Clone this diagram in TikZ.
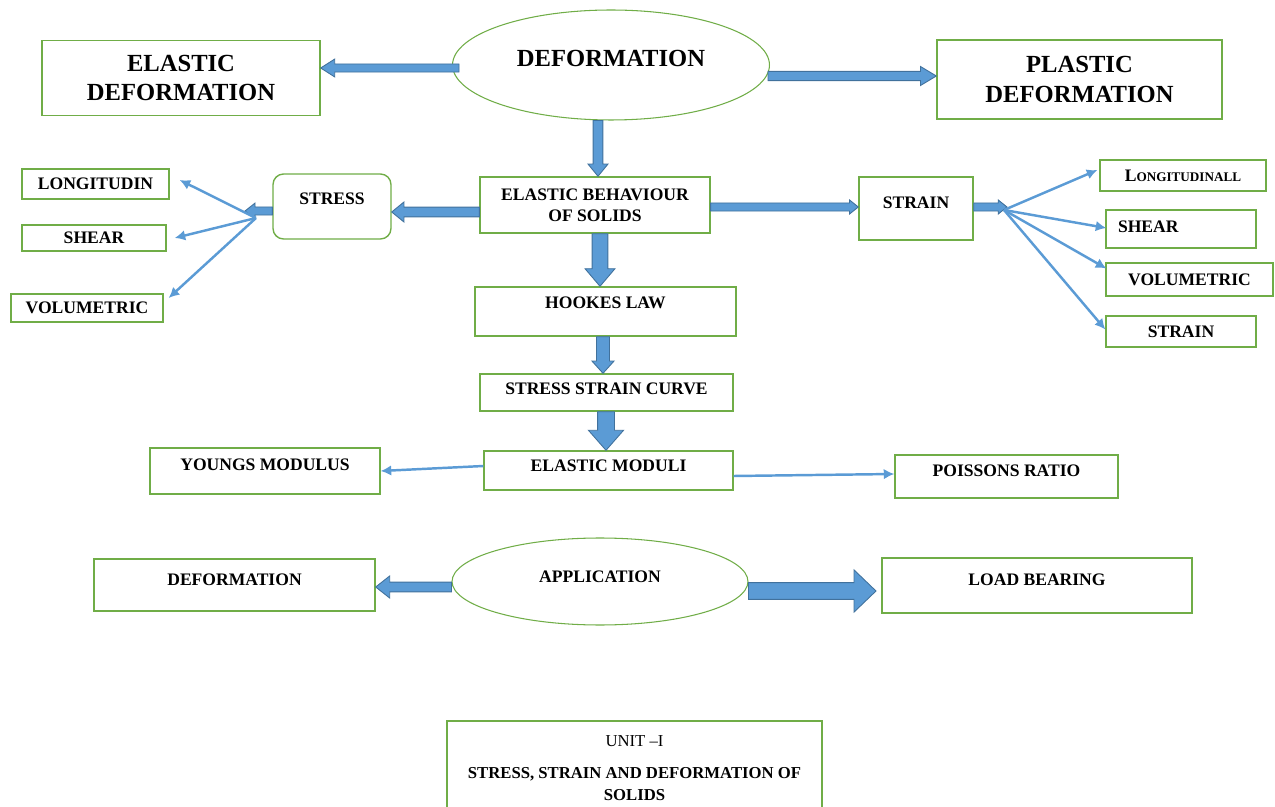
\documentclass[tikz,border=0pt]{standalone}
\usepackage{fontspec}
\setmainfont{Liberation Serif}
\usetikzlibrary{calc,arrows.meta,shapes.geometric}

\definecolor{boxgreen}{RGB}{112,173,71}
\definecolor{arrowblue}{RGB}{91,155,213}
\definecolor{arrowedge}{RGB}{65,113,156}

\newcommand{\headfont}{\bfseries\fontsize{14}{17}\selectfont}
\newcommand{\labfont}{\bfseries\fontsize{10}{12}\selectfont}

\tikzset{
  box/.style={draw=boxgreen, line width=0.8pt, fill=white, align=center, font=\labfont, inner sep=2pt},
  oval/.style={box, ellipse, line width=0.6pt},
  barrow/.style={draw=arrowedge, fill=arrowblue, line width=0.5pt, line join=miter},
  block/.style n args={3}{to path={
    let \p1=(\tikztostart), \p2=(\tikztotarget), \p3=($(\p2)!#3!(\p1)$) in
    ($(\p1)!#1!90:(\p2)$) -- ($(\p3)!#1!90:(\p2)$) -- ($(\p3)!#2!90:(\p2)$) -- (\p2)
    -- ($(\p3)!#2!-90:(\p2)$) -- ($(\p3)!#1!-90:(\p2)$) -- ($(\p1)!#1!-90:(\p2)$) -- cycle}},
  thinarrow/.style={draw=arrowblue, line width=1.4pt, -{Latex[length=6pt,width=6pt]}}
}

\begin{document}
\begin{tikzpicture}[x=0.02cm,y=-0.02cm]
\useasboundingbox (0,0) rectangle (1275,807);

% top row
\node[oval, minimum width=6.34cm, minimum height=2.2cm, text depth=0.28cm, font=\headfont] (deform) at (611,65) {DEFORMATION};
\node[box, minimum width=5.56cm, minimum height=1.5cm, font=\headfont] (elastic) at (181,78) {ELASTIC\\DEFORMATION};
\node[box, minimum width=5.7cm, minimum height=1.58cm, font=\headfont] (plastic) at (1079.5,79.5) {PLASTIC\\DEFORMATION};

% second row
\node[box, minimum width=4.6cm, minimum height=1.12cm] (behav) at (595,205) {ELASTIC BEHAVIOUR\\OF SOLIDS};
\node[box, rounded corners=6pt, minimum width=2.36cm, minimum height=1.3cm, text depth=0.3cm] (stress) at (332,206.5) {STRESS};
\node[box, minimum width=2.28cm, minimum height=1.26cm, text depth=0.22cm] (strain) at (916,208.5) {STRAIN};

% stress kinds
\node[box, minimum width=2.94cm, minimum height=0.6cm] (slong) at (95.5,184) {LONGITUDIN};
\node[box, minimum width=2.88cm, minimum height=0.52cm] (sshear) at (94,238) {SHEAR};
\node[box, minimum width=3.04cm, minimum height=0.56cm] (svol) at (87,308) {VOLUMETRIC};

% strain kinds
\node[box, minimum width=3.32cm, minimum height=0.62cm] (rlong) at (1183,175.5) {{\fontsize{10}{12}\selectfont L}{\fontsize{7.5}{9}\selectfont ONGITUDINALL}};
\node[box, minimum width=3cm, minimum height=0.76cm, text width=2.52cm, align=left, text depth=0.1cm] (rshear) at (1181,229) {SHEAR};
\node[box, minimum width=3.34cm, minimum height=0.66cm] (rvol) at (1189.5,279.5) {VOLUMETRIC};
\node[box, minimum width=3cm, minimum height=0.62cm] (rstrain) at (1181,331.5) {STRAIN};

% middle column
\node[box, minimum width=5.22cm, minimum height=0.98cm, text depth=0.34cm] (hooke) at (605.5,311.5) {HOOKES LAW};
\node[box, minimum width=5.06cm, minimum height=0.74cm, text depth=0.14cm] (curve) at (606.5,392.5) {STRESS STRAIN CURVE};
\node[box, minimum width=4.98cm, minimum height=0.78cm, text depth=0.18cm] (moduli) at (608.5,470.5) {ELASTIC MODULI};
\node[box, minimum width=4.6cm, minimum height=0.92cm, text depth=0.24cm] (young) at (265,471) {YOUNGS MODULUS};
\node[box, minimum width=4.46cm, minimum height=0.86cm, text depth=0.22cm] (poisson) at (1006.5,476.5) {POISSONS RATIO};

% application row
\node[oval, minimum width=5.92cm, minimum height=1.74cm, text depth=0.18cm] (appl) at (600,581.5) {APPLICATION};
\node[box, minimum width=5.62cm, minimum height=1.04cm, text depth=0.2cm] (adeform) at (234.5,585) {DEFORMATION};
\node[box, minimum width=6.2cm, minimum height=1.1cm, text depth=0.22cm] (load) at (1037,585.5) {LOAD BEARING};

% title
\node[box, minimum width=7.5cm, minimum height=1.88cm, font=\fontsize{9.5}{12.5}\selectfont] (unit) at (634.5,768)
  {UNIT --I\\[6pt]\textbf{STRESS, STRAIN AND DEFORMATION OF}\\\textbf{SOLIDS}};

\coordinate (stip) at (245,211);
\coordinate (sfan) at (256,218);
\coordinate (rtip) at (1007,207);
\coordinate (rfan) at (1004,210);

% block arrows
\draw[barrow] (459,68) to[block={2.3pt}{5.1pt}{8pt}] (elastic.east |- 0,68);
\draw[barrow] (768,76) to[block={2.6pt}{5.4pt}{9pt}] (plastic.west |- 0,76);
\draw[barrow] (deform.south -| 598,0) to[block={2.8pt}{5.7pt}{7pt}] (behav.north -| 598,0);
\draw[barrow] (behav.west |- 0,212) to[block={2.8pt}{5.7pt}{7pt}] (stress.east |- 0,212);
\draw[barrow] (behav.east |- 0,207) to[block={2.3pt}{4pt}{5pt}] (strain.west |- 0,207);
\draw[barrow] (stress.west |- 0,211) to[block={2.3pt}{4.5pt}{5.7pt}] (stip);
\draw[barrow] (strain.east |- 0,207) to[block={2.3pt}{4pt}{5pt}] (rtip);
\draw[barrow] (behav.south -| 600,0) to[block={4.5pt}{8.5pt}{10pt}] (hooke.north -| 600,0);
\draw[barrow] (hooke.south -| 603,0) to[block={3.7pt}{6.3pt}{7pt}] (curve.north -| 603,0);
\draw[barrow] (curve.south -| 606,0) to[block={4.8pt}{10pt}{11.4pt}] (moduli.north -| 606,0);
\draw[barrow] (appl.west |- 0,587) to[block={2.8pt}{6.3pt}{8pt}] (adeform.east |- 0,587);
\draw[barrow] (appl.east |- 0,591) to[block={4.8pt}{12pt}{12.5pt}] (876,591);

% thin arrows
\draw[thinarrow] (sfan) -- ($(slong.east)+(10,-4)$);
\draw[thinarrow] (sfan) -- ($(sshear.east)+(8,0)$);
\draw[thinarrow] (sfan) -- ($(svol.east)+(5,-10)$);
\draw[thinarrow] (rfan) -- ($(rlong.west)+(-2,-5.5)$);
\draw[thinarrow] (rfan) -- ($(rshear.west)+(1,-1)$);
\draw[thinarrow] (rfan) -- ($(rvol.west)+(1,-11)$);
\draw[thinarrow] (rfan) -- ($(rstrain.west)+(0,-2)$);
\draw[thinarrow] (moduli.west |- 0,466) -- (young.east);
\draw[thinarrow] (moduli.east |- 0,476) -- (poisson.west |- 0,474);
\end{tikzpicture}
\end{document}
